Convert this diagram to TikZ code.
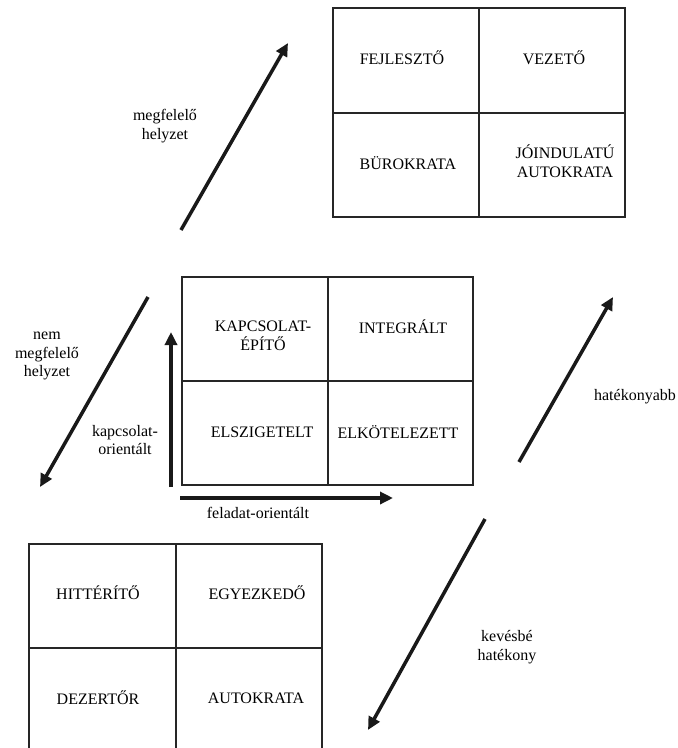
\documentclass[tikz,border=0pt]{standalone}
\usepackage{fontspec}
\setmainfont{Liberation Serif}
\usetikzlibrary{arrows.meta}
\begin{document}
\begin{tikzpicture}[x=1pt,y=-1pt,
  gridline/.style={line width=1.4pt, draw=black!85},
  cell/.style={font=\fontsize{16}{18.5}\selectfont, align=center, inner sep=0pt},
  lbl/.style={font=\fontsize{16}{18.5}\selectfont, align=center, inner sep=0pt},
  bigarrow/.style={line width=3.5pt, draw=black!90, -{Triangle[length=13pt,width=12pt]}}]
\clip (0,0) rectangle (678,748);
\fill[white] (0,0) rectangle (678,748);

% upper grid
\draw[gridline] (333,8) rectangle (625,217);
\draw[gridline] (479,8) -- (479,217);
\draw[gridline] (333,113) -- (625,113);
\node[cell] (fejleszto) at (402,58) {FEJLESZTŐ};
\node[cell] (vezeto) at (554,58) {VEZETŐ};
\node[cell] (burokrata) at (408,163) {BÜROKRATA};
\node[cell] (joindulatu) at (565,161) {JÓINDULATÚ\\AUTOKRATA};

% middle grid
\draw[gridline] (182,277) rectangle (473,485);
\draw[gridline] (328,277) -- (328,485);
\draw[gridline] (182,381) -- (473,381);
\node[cell] (kapcsolatepito) at (263,336) {KAPCSOLAT-\\ÉPÍTŐ};
\node[cell] (integralt) at (403,327) {INTEGRÁLT};
\node[cell] (elszigetelt) at (262,432) {ELSZIGETELT};
\node[cell] (elkotelezett) at (398,432) {ELKÖTELEZETT};

% lower grid
\draw[gridline] (29,544) rectangle (322,760);
\draw[gridline] (176,544) -- (176,760);
\draw[gridline] (29,648) -- (322,648);
\node[cell] (hitterito) at (98,593) {HITTÉRÍTŐ};
\node[cell] (egyezkedo) at (257,593) {EGYEZKEDŐ};
\node[cell] (dezertor) at (98,698) {DEZERTŐR};
\node[cell] (autokrata) at (256,698) {AUTOKRATA};

% axes of the middle grid
\coordinate (yaxis0) at (171,487);
\coordinate (yaxis1) at (171,332);
\coordinate (xaxis0) at (180,498);
\coordinate (xaxis1) at (393,498);
\draw[bigarrow] (yaxis0) -- (yaxis1);
\draw[bigarrow] (xaxis0) -- (xaxis1);
\node[lbl] (kapcsolatorientalt) at (125,440) {kapcsolat-\\orientált};
\node[lbl] (feladatorientalt) at (258,513) {feladat-orientált};

% diagonal arrows
\coordinate (mstart) at (181,230);
\coordinate (mend) at (288,43);
\draw[bigarrow] (mstart) -- (mend);
\node[lbl] (megfelelo) at (165,126) {megfelelő\\helyzet};

\coordinate (nstart) at (148,297);
\coordinate (nend) at (40,487);
\draw[bigarrow] (nstart) -- (nend);
\node[lbl] (nemmegfelelo) at (47,356) {nem\\megfelelő\\helyzet};

\coordinate (hstart) at (519,462);
\coordinate (hend) at (613,297);
\draw[bigarrow] (hstart) -- (hend);
\node[lbl] (hatekonyabb) at (635,397) {hatékonyabb};

\coordinate (kstart) at (485,519);
\coordinate (kend) at (368,730);
\draw[bigarrow] (kstart) -- (kend);
\node[lbl] (kevesbe) at (507,647) {kevésbé\\hatékony};
\end{tikzpicture}
\end{document}
